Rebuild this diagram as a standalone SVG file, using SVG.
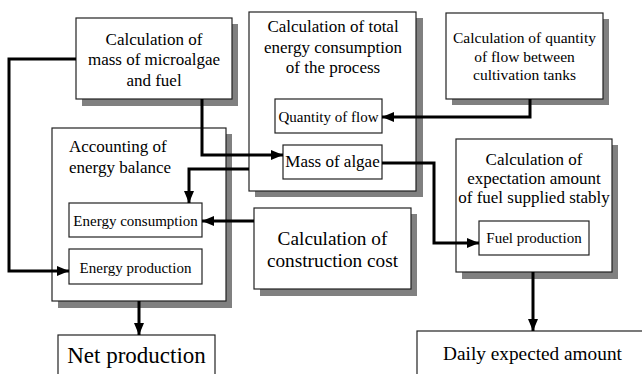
<svg xmlns="http://www.w3.org/2000/svg" width="642" height="374" viewBox="0 0 642 374">
<defs>
<style>
.sh{fill:#808080}
.bx{fill:#fff;stroke:#222;stroke-width:1.2}
.c{fill:none;stroke:#000;stroke-width:3}
</style>
<marker id="ah" markerWidth="12" markerHeight="10" refX="12" refY="5" orient="auto" markerUnits="userSpaceOnUse">
<path d="M0,0 L12,5 L0,10 Z" fill="#000"/>
</marker>
</defs>
<rect width="642" height="374" fill="#fff"/>

<g id="massCalc">
<rect class="sh" x="82" y="24" width="156" height="82"/>
<rect class="bx" x="76" y="18" width="156" height="81"/>
<text font-family="Liberation Serif, serif" text-anchor="middle" font-size="17" x="154" y="45">Calculation of</text>
<text font-family="Liberation Serif, serif" text-anchor="middle" font-size="17" x="154" y="65">mass of microalgae</text>
<text font-family="Liberation Serif, serif" text-anchor="middle" font-size="17" x="154" y="86">and fuel</text>
</g>

<g id="totalEnergy">
<rect class="sh" x="255" y="18" width="168" height="179"/>
<rect class="bx" x="249" y="12" width="167" height="179"/>
<text font-family="Liberation Serif, serif" text-anchor="middle" font-size="17" x="333" y="32">Calculation of total</text>
<text font-family="Liberation Serif, serif" text-anchor="middle" font-size="17" x="333" y="53">energy consumption</text>
<text font-family="Liberation Serif, serif" text-anchor="middle" font-size="17" x="333" y="73">of the process</text>
</g>

<g id="quantityFlow">
<rect class="bx" x="275" y="99" width="107" height="34"/>
<text font-family="Liberation Serif, serif" text-anchor="middle" font-size="15" x="328.5" y="122">Quantity of flow</text>
</g>

<g id="massAlgae">
<rect class="bx" x="283" y="145" width="99" height="34"/>
<text font-family="Liberation Serif, serif" text-anchor="middle" font-size="17" x="332.5" y="167">Mass of algae</text>
</g>

<g id="flowCalc">
<rect class="sh" x="452" y="19" width="157" height="86"/>
<rect class="bx" x="446" y="13" width="157" height="86"/>
<text font-family="Liberation Serif, serif" text-anchor="middle" font-size="15.5" x="524.5" y="43">Calculation of quantity</text>
<text font-family="Liberation Serif, serif" text-anchor="middle" font-size="15.5" x="524.5" y="62">of flow between</text>
<text font-family="Liberation Serif, serif" text-anchor="middle" font-size="15.5" x="524.5" y="80">cultivation tanks</text>
</g>

<g id="energyBalance">
<rect class="sh" x="58" y="134" width="174" height="174"/>
<rect class="bx" x="52" y="128" width="174" height="173"/>
<text font-family="Liberation Serif, serif" font-size="17" x="69" y="152">Accounting of</text>
<text font-family="Liberation Serif, serif" font-size="17" x="69" y="173">energy balance</text>
</g>

<g id="energyConsumption">
<rect class="bx" x="69" y="203" width="133" height="34"/>
<text font-family="Liberation Serif, serif" text-anchor="middle" font-size="15" x="135.5" y="226">Energy consumption</text>
</g>

<g id="energyProduction">
<rect class="bx" x="69" y="249" width="133" height="35"/>
<text font-family="Liberation Serif, serif" text-anchor="middle" font-size="15" x="135.5" y="273">Energy production</text>
</g>

<g id="constructionCost">
<rect class="sh" x="260" y="214" width="157" height="82"/>
<rect class="bx" x="254" y="208" width="157" height="81"/>
<text font-family="Liberation Serif, serif" text-anchor="middle" font-size="19.3" x="332.5" y="245">Calculation of</text>
<text font-family="Liberation Serif, serif" text-anchor="middle" font-size="19.3" x="332.5" y="267">construction cost</text>
</g>

<g id="fuelExpectation">
<rect class="sh" x="462" y="145" width="156" height="134"/>
<rect class="bx" x="456" y="139" width="156" height="133"/>
<text font-family="Liberation Serif, serif" text-anchor="middle" font-size="17" x="534" y="165">Calculation of</text>
<text font-family="Liberation Serif, serif" text-anchor="middle" font-size="17" x="534" y="184">expectation amount</text>
<text font-family="Liberation Serif, serif" text-anchor="middle" font-size="17" x="534" y="203">of fuel supplied stably</text>
</g>

<g id="fuelProduction">
<rect class="bx" x="479" y="221" width="110" height="34"/>
<text font-family="Liberation Serif, serif" text-anchor="middle" font-size="15" x="534" y="243">Fuel production</text>
</g>

<g id="netProduction">
<rect class="bx" x="58" y="335" width="157" height="50"/>
<text font-family="Liberation Serif, serif" text-anchor="middle" font-size="23" x="136.5" y="363">Net production</text>
</g>

<g id="dailyExpected">
<rect class="bx" x="417" y="331" width="240" height="50"/>
<text font-family="Liberation Serif, serif" text-anchor="middle" font-size="19.3" x="532.5" y="360">Daily expected amount</text>
</g>

<g id="connectors">
<path class="c" d="M76,59 H9 V271 H69" marker-end="url(#ah)"/>
<path class="c" d="M202,99 V155 H283" marker-end="url(#ah)"/>
<path class="c" d="M249,169 H189 V203" marker-end="url(#ah)"/>
<path class="c" d="M530,99 V117 H382" marker-end="url(#ah)"/>
<path class="c" d="M382,163 H434 V243 H479" marker-end="url(#ah)"/>
<path class="c" d="M254,221 H202" marker-end="url(#ah)"/>
<path class="c" d="M139,301 V335" marker-end="url(#ah)"/>
<path class="c" d="M533,272 V331" marker-end="url(#ah)"/>
</g>
</svg>
